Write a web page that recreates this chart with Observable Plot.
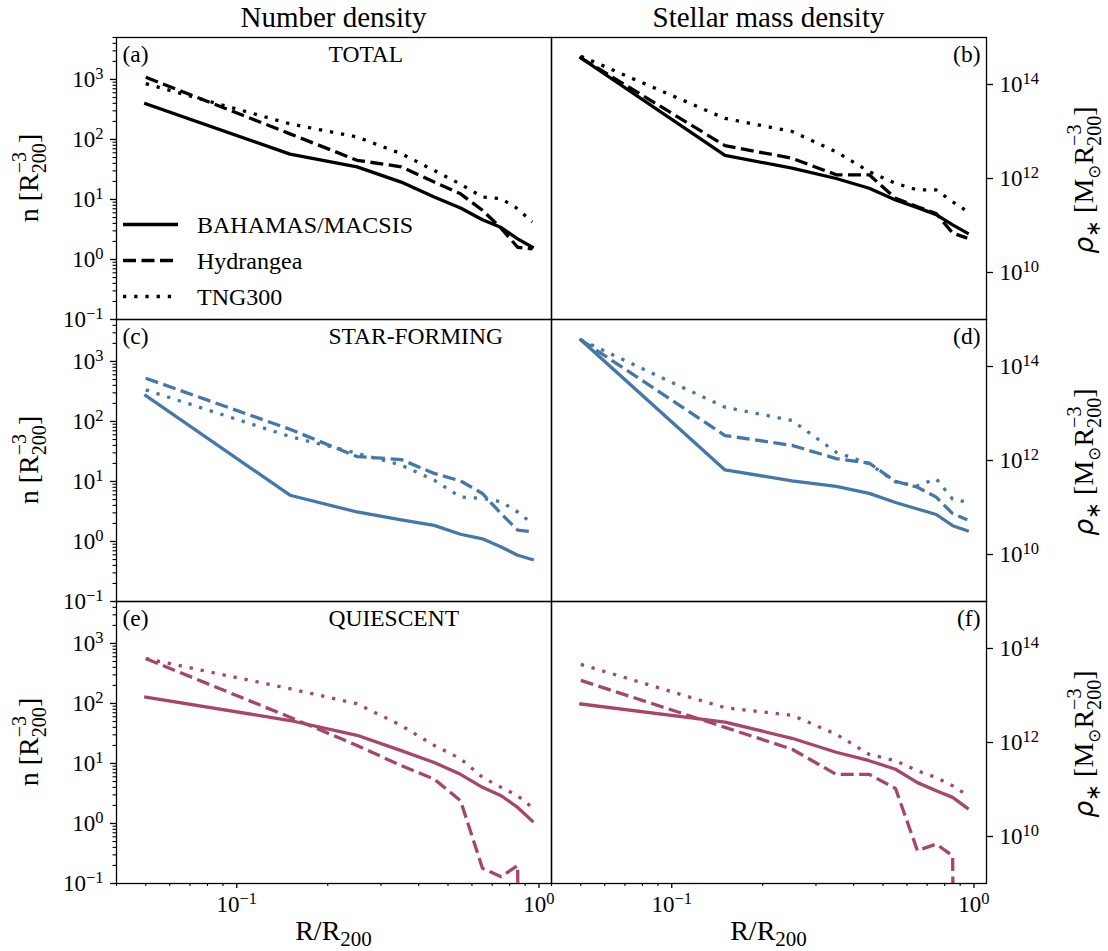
<!DOCTYPE html>
<html>
<head>
<meta charset="utf-8">
<script src="https://cdn.jsdelivr.net/npm/d3@7"></script>
<script src="https://cdn.jsdelivr.net/npm/@observablehq/plot@0.6"></script>
<style>
html, body { margin: 0; padding: 0; background: #fff; }
#chart { position: relative; width: 1108px; height: 951px; font-family: "Liberation Serif", serif; }
#chart > svg { position: absolute; left: 0; top: 0; }
</style>
</head>
<body>
<div id="chart"></div>
<script>
// ---------------- data ----------------
const radius = [0.05, 0.15, 0.25, 0.35, 0.45, 0.55, 0.65, 0.75, 0.85, 0.95];
const rows = ["TOTAL", "STAR-FORMING", "QUIESCENT"];
const tagsLeft = ["(a)", "(c)", "(e)"];
const tagsRight = ["(b)", "(d)", "(f)"];
const sims = ["BAHAMAS/MACSIS", "Hydrangea", "TNG300"];
const columnTitles = ["Number density", "Stellar mass density"];
const nTicks = [0.1, 1, 10, 100, 1000];
const rhoTicks = [1e10, 1e12, 1e14];
const xTicks = [0.1, 1];
const xMinorTicks = [0.04, 0.05, 0.06, 0.07, 0.08, 0.09, 0.2, 0.3, 0.4, 0.5, 0.6, 0.7, 0.8, 0.9];
const nMinorTicks = [0.2,0.3,0.4,0.5,0.6,0.7,0.8,0.9, 2,3,4,5,6,7,8,9, 20,30,40,50,60,70,80,90,
  200,300,400,500,600,700,800,900, 2000,3000,4000,5000];

// number density n [R200^-3]
const nTotalBahamas   = [394, 57, 35, 19.5, 11, 7.2, 4.6, 3.4, 2.2, 1.6];
const nTotalHydrangea = [1090, 124, 45, 35, 19.6, 12.4, 6.6, 3.3, 1.6, 1.5];
const nTotalTng300    = [850, 182, 110, 58, 30.5, 18, 11, 10.3, 7, 4.2];
const nSfBahamas      = [270, 5.9, 3.1, 2.3, 1.86, 1.32, 1.11, 0.81, 0.59, 0.50];
const nSfHydrangea    = [525, 74, 26, 23.2, 13.6, 10.2, 6.3, 2.9, 1.55, 1.45];
const nSfTng300       = [336, 56, 29.5, 18.8, 10.5, 5.5, 5.2, 4.6, 3.1, 2.0];
const nQBahamas       = [128, 52, 29.5, 16.4, 10.4, 6.6, 4.0, 2.9, 1.85, 1.1];
const nQHydrangea     = [560, 59, 20, 9.2, 5.5, 2.4, 0.18, 0.13, 0.20, 0];
const nQTng300        = [560, 176, 99, 43, 20, 12, 5.9, 4.0, 2.9, 1.85];

// stellar mass density rho* [Msun R200^-3]
const rhoTotalBahamas   = [3.7e14, 3.1e12, 1.66e12, 1.0e12, 6.2e11, 3.5e11, 2.4e11, 1.7e11, 1.03e11, 6.9e10];
const rhoTotalHydrangea = [3.7e14, 5e12, 2.7e12, 1.2e12, 1.2e12, 3.8e11, 2.5e11, 1.8e11, 6.9e10, 5.4e10];
const rhoTotalTng300    = [4e14, 1.9e13, 1e13, 3.7e12, 1.4e12, 7.9e11, 5.7e11, 5.7e11, 3.2e11, 2e11];
const rhoSfBahamas      = [3.7e14, 6.3e11, 3.7e11, 2.8e11, 2.0e11, 1.28e11, 9.3e10, 7.1e10, 4.1e10, 3.2e10];
const rhoSfHydrangea    = [3.7e14, 3.4e12, 2.1e12, 1.1e12, 8.8e11, 3.6e11, 2.7e11, 1.66e11, 7.4e10, 5.5e10];
const rhoSfTng300       = [3.7e14, 1.36e13, 7.1e12, 1.5e12, 8.5e11, 3.5e11, 2.9e11, 4.1e11, 1.5e11, 1.3e11];
const rhoQBahamas       = [6.6e12, 2.7e12, 1.23e12, 6.2e11, 4.1e11, 2.7e11, 1.4e11, 9.4e10, 6.8e10, 4e10];
const rhoQHydrangea     = [2.1e13, 2.1e12, 7.2e11, 2.1e11, 2.1e11, 1.05e11, 5e9, 6.9e9, 3.9e9, 0];
const rhoQTng300        = [4.6e13, 5.5e12, 3.8e12, 1.5e12, 5.6e11, 4.1e11, 2.5e11, 1.8e11, 1.2e11, 7.6e10];

// ---------------- styles ----------------
const rowColors = ["#000000", "#4477aa", "#a8456c"];
const simDash = [undefined, "13,5.5", "3.3,7.9"];
const LW = 3.3;

const nSeries = [
  [nTotalBahamas, nTotalHydrangea, nTotalTng300],
  [nSfBahamas, nSfHydrangea, nSfTng300],
  [nQBahamas, nQHydrangea, nQTng300]
];
const rhoSeries = [
  [rhoTotalBahamas, rhoTotalHydrangea, rhoTotalTng300],
  [rhoSfBahamas, rhoSfHydrangea, rhoSfTng300],
  [rhoQBahamas, rhoQHydrangea, rhoQTng300]
];

// zero values are clipped to a tiny positive number (like matplotlib's log "clip"), so the line drops off the axes
const positive = v => (v > 0 ? v : 1e-30);
function toTable(series) {
  return rows.flatMap((row, i) => sims.flatMap((sim, j) =>
    radius.map((r, k) => ({row, sim, r, v: positive(series[i][j][k])}))));
}
const nTable = toTable(nSeries);
const rhoTable = toTable(rhoSeries);

const supFmt = d => "10^" + Math.round(Math.log10(d));
const W = 1108, H = 951, TOP = 37, BOTTOM = 883, XL = 116, XM = 551, XR = 986;

function column(table, opts) {
  const marks = [];
  sims.forEach((sim, j) => {
    marks.push(Plot.line(table.filter(d => d.sim === sim), {
      x: "r", y: "v", fy: "row", stroke: "row", strokeWidth: LW,
      strokeDasharray: simDash[j], strokeLinecap: j === 0 ? "square" : "butt",
      strokeLinejoin: "round", clip: true
    }));
  });
  marks.push(Plot.axisX(xTicks, {tickSize: 5, tickPadding: 7, tickFormat: supFmt, label: null, fontSize: 23, strokeWidth: 1.3}));
  marks.push(Plot.axisX(xMinorTicks, {tickSize: 3, tickFormat: () => "", label: null, strokeWidth: 1.1}));
  marks.push(...opts.yAxes);
  marks.push(Plot.text(rows.map((row, i) => ({row, tag: opts.tags[i]})), {
    fy: "row", text: "tag", frameAnchor: opts.tagAnchor, dx: opts.tagDx, dy: 8.3,
    lineAnchor: "top", textAnchor: opts.tagTextAnchor, fontSize: 23.5, fill: "black"
  }));
  if (opts.names) {
    marks.push(Plot.text(rows.map(row => ({row})), {
      fy: "row", text: "row", frameAnchor: "top-left", dx: 212, dy: 8.3,
      lineAnchor: "top", textAnchor: "start", fontSize: 23.5, fill: "black"
    }));
  }
  marks.push(Plot.frame({stroke: "black", strokeWidth: 1.3}));
  return Plot.plot({
    width: W, height: H,
    marginLeft: opts.marginLeft, marginRight: opts.marginRight,
    marginTop: TOP, marginBottom: H - BOTTOM,
    style: {background: "transparent", overflow: "visible", fontFamily: "Liberation Serif", fontSize: "23px", color: "black"},
    x: {type: "log", domain: [0.04, 1.1]},
    y: {type: "log", domain: opts.yDomain},
    fy: {domain: rows, padding: 0, axis: null},
    color: {domain: rows, range: rowColors},
    marks
  });
}

const left = column(nTable, {
  marginLeft: XL, marginRight: W - XM, yDomain: [0.1, 5000],
  yAxes: [
    Plot.axisY(nTicks, {tickSize: 6, tickPadding: 7, tickFormat: supFmt, label: null, fontSize: 23, strokeWidth: 1.3}),
    Plot.axisY(nMinorTicks, {tickSize: 3.5, tickFormat: () => "", label: null, strokeWidth: 1.1})
  ],
  tags: tagsLeft, tagAnchor: "top-left", tagDx: 6, tagTextAnchor: "start", names: true
});
const right = column(rhoTable, {
  marginLeft: XM, marginRight: W - XR, yDomain: [1e9, 1e15],
  yAxes: [
    Plot.axisY(rhoTicks, {anchor: "right", tickSize: 6, tickPadding: 7, tickFormat: supFmt, label: null, fontSize: 23, strokeWidth: 1.3})
  ],
  tags: tagsRight, tagAnchor: "top-right", tagDx: -6, tagTextAnchor: "end", names: false
});

const NS = "http://www.w3.org/2000/svg";
function superscripts(svg) {
  svg.querySelectorAll("text").forEach(t => {
    const m = /^10\^(-?\d+)$/.exec(t.textContent);
    if (!m) return;
    while (t.firstChild) t.removeChild(t.firstChild);
    const base = document.createElementNS(NS, "tspan");
    base.textContent = "10";
    const sup = document.createElementNS(NS, "tspan");
    sup.textContent = m[1].replace("-", "\u2212");
    sup.setAttribute("dy", "-0.45em");
    sup.setAttribute("font-size", "0.72em");
    t.append(base, sup);
  });
}
superscripts(left);
superscripts(right);

const chart = document.getElementById("chart");
chart.append(left, right);

// ---------------- overlay: titles, axis labels, legend ----------------
const ov = d3.select(chart).append("svg")
  .attr("width", W).attr("height", H)
  .attr("font-family", "Liberation Serif, serif")
  .style("overflow", "visible");

columnTitles.forEach((title, i) => {
  ov.append("text").attr("x", i === 0 ? (XL + XM) / 2 : (XM + XR) / 2).attr("y", 27)
    .attr("text-anchor", "middle").attr("font-size", 29).text(title);
});

function stacked(t, size, subText, supText) {
  const s = size * 0.72;
  const sub = t.append("tspan").attr("font-size", s).attr("dy", size * 0.28).text(subText);
  const subLen = sub.node().getComputedTextLength();
  const sup = t.append("tspan").attr("font-size", s).attr("dx", -subLen).attr("dy", -size * 0.72).text(supText);
  const supLen = sup.node().getComputedTextLength();
  return {dx: Math.max(0, subLen - supLen), dy: size * 0.44};
}

function nLabel(x, y) {
  const size = 28;
  const t = ov.append("text").attr("transform", `translate(${x},${y}) rotate(-90)`)
    .attr("text-anchor", "middle").attr("font-size", size);
  t.append("tspan").text("n [R");
  const back = stacked(t, size, "200", "\u22123");
  t.append("tspan").attr("dx", back.dx).attr("dy", back.dy).text("]");
}
function rhoLabel(x, y) {
  const size = 28;
  const t = ov.append("text").attr("transform", `translate(${x},${y}) rotate(-90)`)
    .attr("text-anchor", "middle").attr("font-size", size);
  t.append("tspan").attr("font-family", "DejaVu Sans").attr("font-style", "italic").attr("font-size", size * 0.95).text("\u03c1");
  t.append("tspan").attr("font-size", size * 0.72).attr("dy", size * 0.25).attr("font-family", "DejaVu Sans").text("\u2217");
  t.append("tspan").attr("dy", -size * 0.25).text(" [M");
  t.append("tspan").attr("font-size", size * 0.6).attr("dy", size * 0.25).attr("font-family", "DejaVu Sans").text("\u2299");
  t.append("tspan").attr("dy", -size * 0.25).text("R");
  const back = stacked(t, size, "200", "\u22123");
  t.append("tspan").attr("dx", back.dx).attr("dy", back.dy).text("]");
}
function xLabel(x, y) {
  const size = 28;
  const t = ov.append("text").attr("x", x).attr("y", y).attr("text-anchor", "middle").attr("font-size", size);
  t.append("tspan").text("R/R");
  t.append("tspan").attr("font-size", size * 0.75).attr("dy", size * 0.2).text("200");
}

const rowH = (BOTTOM - TOP) / 3;
rows.forEach((row, i) => {
  const cy = TOP + rowH * (i + 0.5);
  nLabel(38, cy);
  rhoLabel(1093, cy + 2);
});
xLabel((XL + XM) / 2, 940);
xLabel((XM + XR) / 2, 940);

// legend (panel a)
sims.forEach((sim, j) => {
  const y = 224.5 + j * 36;
  ov.append("line").attr("x1", 123).attr("x2", 178).attr("y1", y).attr("y2", y)
    .attr("stroke", "black").attr("stroke-width", LW)
    .attr("stroke-dasharray", simDash[j] || null);
  ov.append("text").attr("x", 197).attr("y", y + 8.3).attr("font-size", 24).text(sim);
});
</script>
</body>
</html>
